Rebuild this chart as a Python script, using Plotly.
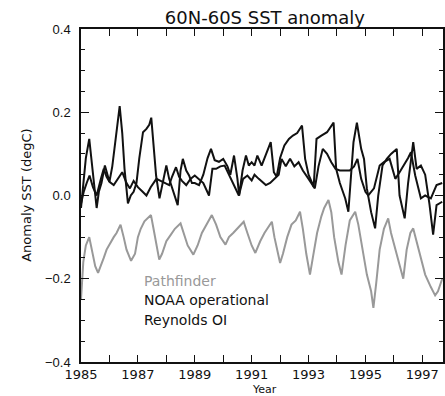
import plotly.graph_objects as go

# ---------------- data ----------------
path_x = [1985.0, 1985.08, 1985.17, 1985.29, 1985.38, 1985.5, 1985.6, 1985.7, 1985.8, 1985.9,
          1986.05, 1986.15, 1986.25, 1986.39, 1986.5, 1986.6, 1986.76, 1986.9, 1987.0, 1987.1,
          1987.23, 1987.35, 1987.46, 1987.55, 1987.65, 1987.75, 1987.85, 1988.0, 1988.16, 1988.3,
          1988.5, 1988.6, 1988.75, 1988.95, 1989.1, 1989.25, 1989.4, 1989.6, 1989.75, 1989.9,
          1990.08, 1990.2, 1990.35, 1990.5, 1990.72, 1990.85, 1991.0, 1991.13, 1991.3, 1991.45,
          1991.6, 1991.71, 1991.8, 1991.92, 1992.0, 1992.1, 1992.25, 1992.4, 1992.55, 1992.7,
          1992.8, 1992.92, 1993.05, 1993.15, 1993.3, 1993.45, 1993.55, 1993.7, 1993.8, 1993.9,
          1994.05, 1994.16, 1994.3, 1994.45, 1994.64, 1994.75, 1994.9, 1995.05, 1995.2, 1995.28,
          1995.38, 1995.5, 1995.65, 1995.8, 1995.9, 1996.05, 1996.2, 1996.33, 1996.45, 1996.58,
          1996.68, 1996.8, 1996.95, 1997.1, 1997.3, 1997.45, 1997.55, 1997.7]
path_y = [-0.25, -0.16, -0.12, -0.10, -0.13, -0.17, -0.186, -0.17, -0.15, -0.13,
          -0.11, -0.10, -0.09, -0.07, -0.10, -0.13, -0.157, -0.14, -0.10, -0.08,
          -0.062, -0.055, -0.047, -0.08, -0.12, -0.154, -0.14, -0.11, -0.094, -0.08,
          -0.067, -0.09, -0.12, -0.142, -0.12, -0.09, -0.07, -0.047, -0.07, -0.10,
          -0.118, -0.10, -0.09, -0.08, -0.063, -0.09, -0.12, -0.138, -0.11, -0.09,
          -0.075, -0.063, -0.10, -0.14, -0.162, -0.14, -0.10, -0.07, -0.06, -0.039,
          -0.08, -0.14, -0.19, -0.15, -0.09, -0.05, -0.03, -0.011, -0.04, -0.10,
          -0.16, -0.19, -0.12, -0.06, -0.039, -0.07, -0.13, -0.19, -0.23, -0.27,
          -0.21, -0.13, -0.08, -0.055, -0.09, -0.13, -0.17, -0.20, -0.13, -0.09,
          -0.079, -0.11, -0.15, -0.19, -0.22, -0.24, -0.23, -0.20]

noaa_x = [1985.0, 1985.08, 1985.17, 1985.29, 1985.38, 1985.46, 1985.55, 1985.63, 1985.72, 1985.84,
          1985.92, 1986.0, 1986.1, 1986.19, 1986.28, 1986.36, 1986.45, 1986.53, 1986.65, 1986.75,
          1986.85, 1986.95, 1987.05, 1987.18, 1987.3, 1987.4, 1987.47, 1987.55, 1987.64, 1987.76,
          1987.88, 1988.0, 1988.1, 1988.2, 1988.3, 1988.4, 1988.5, 1988.58, 1988.7, 1988.8,
          1988.9, 1989.0, 1989.15, 1989.3, 1989.45, 1989.57, 1989.7, 1989.85, 1990.0, 1990.15,
          1990.25, 1990.38, 1990.5, 1990.56, 1990.68, 1990.8, 1990.9, 1991.0, 1991.1, 1991.2,
          1991.35, 1991.5, 1991.67, 1991.78, 1991.88, 1992.0, 1992.15, 1992.31, 1992.45, 1992.6,
          1992.77, 1992.88, 1993.0, 1993.18, 1993.28, 1993.45, 1993.65, 1993.88, 1993.97, 1994.1,
          1994.29, 1994.4, 1994.5, 1994.58, 1994.7, 1994.85, 1994.95, 1995.05, 1995.2, 1995.34,
          1995.45, 1995.6, 1995.75, 1995.9, 1996.1, 1996.2, 1996.38, 1996.5, 1996.68, 1996.8,
          1996.95, 1997.1, 1997.25, 1997.38, 1997.5, 1997.7]
noaa_y = [-0.03, 0.02, 0.09, 0.136, 0.08, 0.02, -0.03, 0.01, 0.03, 0.072,
          0.05, 0.033, 0.07, 0.12, 0.17, 0.215, 0.15, 0.064, -0.019, 0.0,
          0.009, 0.03, 0.09, 0.152, 0.16, 0.17, 0.187, 0.12, 0.048, -0.007,
          0.03, 0.072, 0.04, 0.02, 0.0, -0.023, 0.06, 0.088, 0.06, 0.048,
          0.03, 0.03, 0.025, 0.05, 0.09, 0.112, 0.085, 0.081, 0.088, 0.07,
          0.05, 0.096, 0.04, 0.0, 0.06, 0.096, 0.072, 0.08, 0.072, 0.096,
          0.072, 0.10, 0.128, 0.056, 0.045, 0.09, 0.12, 0.136, 0.144, 0.15,
          0.168, 0.088, 0.05, 0.021, 0.136, 0.144, 0.152, 0.175, 0.064, 0.03,
          -0.007, -0.039, 0.06, 0.128, 0.175, 0.112, 0.088, 0.017, -0.04, -0.079,
          0.0, 0.072, 0.088, 0.10, 0.112, 0.0, -0.055, 0.03, 0.128, 0.064,
          0.072, 0.05, -0.02, -0.094, -0.023, -0.015]

reyn_x = [1985.0, 1985.1, 1985.2, 1985.3, 1985.42, 1985.55, 1985.7, 1985.8, 1985.9, 1986.0,
          1986.15, 1986.3, 1986.45, 1986.6, 1986.72, 1986.85, 1987.0, 1987.15, 1987.3, 1987.45,
          1987.65, 1987.8, 1987.95, 1988.1, 1988.2, 1988.34, 1988.45, 1988.55, 1988.7, 1988.85,
          1989.0, 1989.15, 1989.3, 1989.5, 1989.62, 1989.75, 1989.9, 1990.05, 1990.2, 1990.35,
          1990.55, 1990.7, 1990.85, 1991.0, 1991.1, 1991.25, 1991.4, 1991.5, 1991.65, 1991.8,
          1991.95, 1992.05, 1992.2, 1992.35, 1992.5, 1992.65, 1992.8, 1993.0, 1993.22, 1993.35,
          1993.5, 1993.65, 1993.8, 1993.95, 1994.1, 1994.25, 1994.45, 1994.6, 1994.72, 1994.85,
          1995.0, 1995.1, 1995.3, 1995.5, 1995.65, 1995.85, 1996.05, 1996.2, 1996.35, 1996.5,
          1996.6, 1996.75, 1996.95, 1997.1, 1997.3, 1997.5, 1997.7]
reyn_y = [-0.02, 0.01, 0.03, 0.048, 0.02, 0.0, 0.04, 0.064, 0.045, 0.033,
          0.025, 0.04, 0.056, 0.03, 0.017, 0.035, 0.02, 0.01, 0.0, 0.02,
          0.04, 0.035, 0.03, 0.025, 0.045, 0.068, 0.045, 0.035, 0.025, 0.04,
          0.048, 0.04, 0.03, 0.0, 0.064, 0.064, 0.07, 0.072, 0.05, 0.03,
          0.0, 0.04, 0.048, 0.036, 0.05, 0.04, 0.03, 0.025, 0.03, 0.04,
          0.05, 0.088, 0.07, 0.088, 0.07, 0.08, 0.06, 0.04, 0.017, 0.07,
          0.112, 0.10, 0.08, 0.064, 0.06, 0.06, 0.06, 0.07, 0.088, 0.04,
          0.009, 0.0, 0.017, 0.072, 0.08, 0.088, 0.04, 0.056, 0.072, 0.09,
          0.104, 0.048, -0.007, 0.0, -0.007, 0.025, 0.03]

year_ticks = list(range(1985, 1998))
year_labels = [str(y) if y % 2 == 1 else "" for y in year_ticks]
legend_names = ["Pathfinder", "NOAA operational", "Reynolds OI"]
legend_colors = ["#999999", "#111111", "#111111"]

# ---------------- figure ----------------
fig = go.Figure()
fig.add_trace(go.Scatter(x=path_x, y=path_y, mode="lines", name=legend_names[0],
                         line=dict(color=legend_colors[0], width=2)))
fig.add_trace(go.Scatter(x=noaa_x, y=noaa_y, mode="lines", name=legend_names[1],
                         line=dict(color=legend_colors[1], width=2)))
fig.add_trace(go.Scatter(x=reyn_x, y=reyn_y, mode="lines", name=legend_names[2],
                         line=dict(color=legend_colors[2], width=2)))

ann = []
for i, (nm, col) in enumerate(zip(legend_names, legend_colors)):
    ann.append(dict(x=1987.13, y=[-0.205, -0.252, -0.298][i], xref="x", yref="y",
                    text=nm, showarrow=False, xanchor="left", yanchor="middle",
                    font=dict(family="DejaVu Sans", size=14, color=col)))
ann.append(dict(x=-0.151, y=0.5, xref="paper", yref="paper", text="Anomaly SST (degC)",
                textangle=-90, showarrow=False, xanchor="center", yanchor="middle",
                font=dict(family="DejaVu Sans", size=13, color="#111")))
ann.append(dict(x=0.508, y=-0.0835, xref="paper", yref="paper", text="Year",
                showarrow=False, xanchor="center", yanchor="middle",
                font=dict(family="DejaVu Sans", size=11, color="#111")))

fig.update_layout(
    width=445, height=396,
    margin=dict(l=81, r=0, t=29, b=34),
    paper_bgcolor="white", plot_bgcolor="white",
    showlegend=False,
    title=dict(text="60N-60S SST anomaly", x=0.508, xref="paper", y=1 - 18 / 396,
               yref="container", xanchor="center", yanchor="middle",
               font=dict(family="DejaVu Sans", size=18, color="#111")),
    annotations=ann,
)
fig.update_xaxes(range=[1985, 1997.727], showgrid=False, zeroline=False,
                 showline=True, linecolor="#111", linewidth=1.5, mirror="ticks",
                 ticks="inside", ticklen=7, tickwidth=1, tickcolor="#111",
                 tickvals=year_ticks, ticktext=year_labels, ticklabelstandoff=0,
                 tickfont=dict(family="DejaVu Sans", size=13, color="#111"))
fig.update_yaxes(range=[-0.4, 0.4], showgrid=False, zeroline=False,
                 showline=True, linecolor="#111", linewidth=1.5, mirror="ticks",
                 ticks="inside", ticklen=8, tickwidth=1, tickcolor="#111",
                 tickvals=[-0.4, -0.2, 0.0, 0.2, 0.4], tickformat=".1f",
                 minor=dict(dtick=0.05, ticks="inside", ticklen=4, tickcolor="#111"),
                 ticklabelstandoff=6,
                 tickfont=dict(family="Liberation Sans", size=13, color="#111"))

fig.write_html("out.html")
